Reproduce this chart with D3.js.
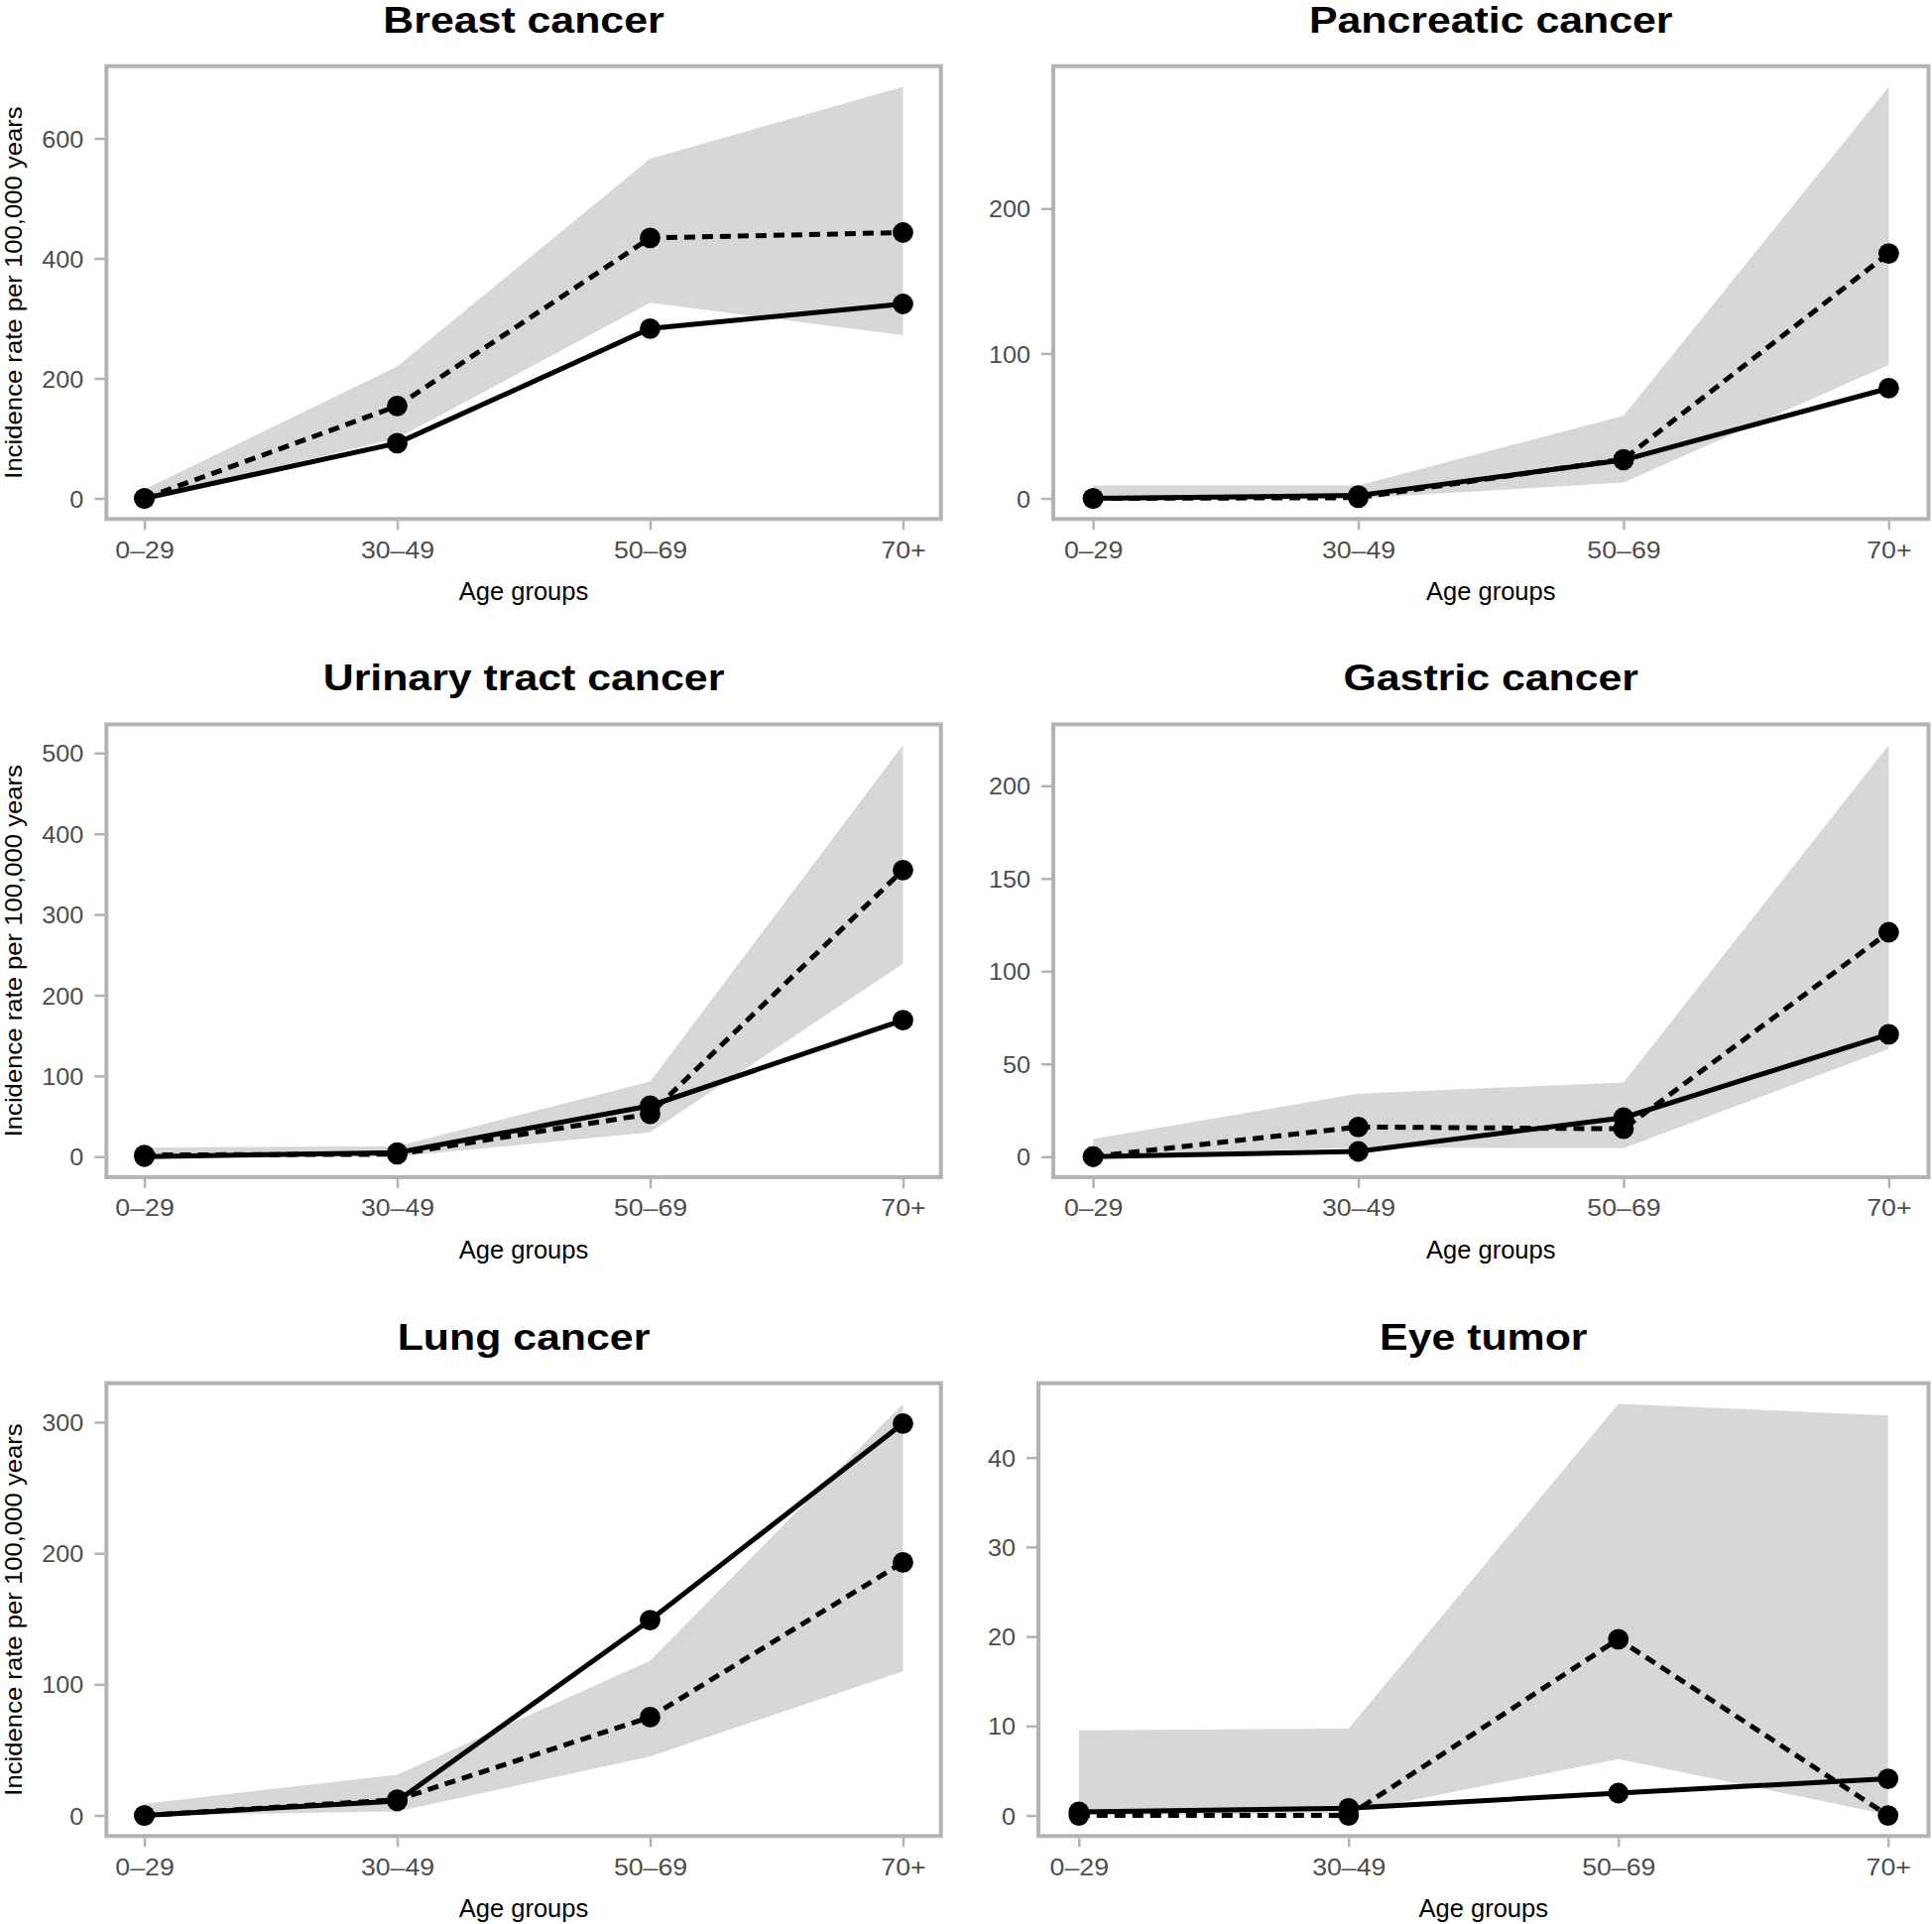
<!DOCTYPE html>
<html><head><meta charset="utf-8">
<script src="https://cdn.jsdelivr.net/npm/d3@7"></script>
<style>
html,body{margin:0;padding:0;background:#fff;}
svg{display:block;}
text{font-family:"Liberation Sans", Arial, Helvetica, sans-serif;}
</style></head><body>
<svg id="chart" width="1948" height="1940"></svg>
<script>
// ---- data ----
const ageGroups = ["0–29", "30–49", "50–69", "70+"];
const panelTitles = ["Breast cancer", "Pancreatic cancer", "Urinary tract cancer", "Gastric cancer", "Lung cancer", "Eye tumor"];
const xAxisTitle = "Age groups";
const yAxisTitle = "Incidence rate per 100,000 years";

const breastSolid  = [0, 92, 283, 324];
const breastDashed = [0, 154, 434, 443];
const breastLower  = [0, 100, 326, 272];
const breastUpper  = [15, 220, 566, 686];
const breastTicks  = [0, 200, 400, 600];

const pancreaticSolid  = [0, 2, 26.5, 76];
const pancreaticDashed = [0, 0.5, 27, 169];
const pancreaticLower  = [0, 0, 11, 92];
const pancreaticUpper  = [9, 9, 57, 284];
const pancreaticTicks  = [0, 100, 200];

const urinarySolid  = [0, 5, 63, 169];
const urinaryDashed = [2, 3, 53, 355];
const urinaryLower  = [0, 0, 30, 239];
const urinaryUpper  = [11, 13, 93, 510];
const urinaryTicks  = [0, 100, 200, 300, 400, 500];

const gastricSolid  = [0, 2.8, 21, 66];
const gastricDashed = [0, 16, 15, 121];
const gastricLower  = [0, 5, 4.5, 58];
const gastricUpper  = [9.5, 34, 40, 222];
const gastricTicks  = [0, 50, 100, 150, 200];

const lungSolid  = [0, 11, 149, 299];
const lungDashed = [0, 12, 75, 193];
const lungLower  = [0, 3, 45, 110];
const lungUpper  = [9, 31, 118, 314];
const lungTicks  = [0, 100, 200, 300];

const eyeSolid  = [0.4, 0.8, 2.5, 4.1];
const eyeDashed = [0, 0, 19.7, 0];
const eyeLower  = [0, 0.3, 6.3, 0.1];
const eyeUpper  = [9.5, 9.7, 46, 44.7];
const eyeTicks  = [0, 10, 20, 30, 40];

const panels = [
  {title: panelTitles[0], solid: breastSolid, dashed: breastDashed, lower: breastLower, upper: breastUpper, ticks: breastTicks},
  {title: panelTitles[1], solid: pancreaticSolid, dashed: pancreaticDashed, lower: pancreaticLower, upper: pancreaticUpper, ticks: pancreaticTicks},
  {title: panelTitles[2], solid: urinarySolid, dashed: urinaryDashed, lower: urinaryLower, upper: urinaryUpper, ticks: urinaryTicks},
  {title: panelTitles[3], solid: gastricSolid, dashed: gastricDashed, lower: gastricLower, upper: gastricUpper, ticks: gastricTicks},
  {title: panelTitles[4], solid: lungSolid, dashed: lungDashed, lower: lungLower, upper: lungUpper, ticks: lungTicks},
  {title: panelTitles[5], solid: eyeSolid, dashed: eyeDashed, lower: eyeLower, upper: eyeUpper, ticks: eyeTicks}
];

// ---- layout (frame line centres) ----
const rowTop = [66.7, 730.4, 1394.7];
const frameH = 456.6;
const colLeft = [[107.3, 107.3, 107.3], [1062, 1062, 1047]];
const colRight = [948.7, 1944.5];

const frameColor = "#b3b3b3";
const ribbonColor = "#d7d7d7";
const tickTextColor = "#4d4d4d";
const tickStretch = 1.09;

const svg = d3.select("#chart");

panels.forEach((p, idx) => {
  const col = idx % 2, row = Math.floor(idx / 2);
  const left = colLeft[col][row], right = colRight[col];
  const top = rowTop[row], bottom = top + frameH;

  const x = d3.scalePoint().domain(ageGroups).range([left, right]).padding(0.15);
  const all = p.solid.concat(p.dashed, p.lower, p.upper);
  const lo = d3.min(all), hi = d3.max(all), ex = (hi - lo) * 0.05;
  const y = d3.scaleLinear().domain([lo - ex, hi + ex]).range([bottom, top]);

  const g = svg.append("g");

  // ribbon
  const area = d3.area()
    .x((d, i) => x(ageGroups[i]))
    .y0((d, i) => y(p.lower[i]))
    .y1((d, i) => y(p.upper[i]));
  g.append("path").datum(p.upper).attr("d", area).attr("fill", ribbonColor);

  const line = d3.line().x((d, i) => x(ageGroups[i])).y(d => y(d));
  g.append("path").datum(p.dashed).attr("d", line)
    .attr("fill", "none").attr("stroke", "#000").attr("stroke-width", 5)
    .attr("stroke-dasharray", "11,7");
  g.append("path").datum(p.solid).attr("d", line)
    .attr("fill", "none").attr("stroke", "#000").attr("stroke-width", 5);

  [p.dashed, p.solid].forEach(series => {
    g.selectAll(null).data(series).enter().append("circle")
      .attr("cx", (d, i) => x(ageGroups[i])).attr("cy", d => y(d))
      .attr("r", 10.4).attr("fill", "#000");
  });

  // frame
  g.append("rect").attr("x", left).attr("y", top)
    .attr("width", right - left).attr("height", bottom - top)
    .attr("fill", "none").attr("stroke", frameColor).attr("stroke-width", 4);

  // y axis
  const ya = g.append("g").attr("transform", `translate(${left - 2},0)`)
    .call(d3.axisLeft(y).tickValues(p.ticks).tickSize(10).tickPadding(11).tickFormat(d3.format("d")));
  ya.select(".domain").remove();
  ya.selectAll(".tick line").attr("stroke", frameColor).attr("stroke-width", 2.5);
  ya.selectAll(".tick text").attr("fill", tickTextColor).attr("font-size", 24)
    .attr("x", -21 / 1.05).attr("transform", "scale(1.05,1)")
    .attr("dy", "0.36em").attr("font-family", null);

  // x axis
  const xa = g.append("g").attr("transform", `translate(0,${bottom + 2})`)
    .call(d3.axisBottom(x).tickSize(9).tickPadding(10));
  xa.select(".domain").remove();
  xa.selectAll(".tick line").attr("stroke", frameColor).attr("stroke-width", 2.5);
  xa.selectAll(".tick text").attr("fill", tickTextColor).attr("font-size", 24.5)
    .attr("transform", `scale(${tickStretch},1)`)
    .attr("y", 37.4).attr("dy", 0).attr("font-family", null);

  // titles
  const cx = (left + right) / 2;
  g.append("text").attr("transform", `translate(${cx},${top - 34}) scale(1.19,1)`)
    .attr("text-anchor", "middle").attr("font-weight", "bold").attr("font-size", 36)
    .attr("fill", "#000").text(p.title);
  g.append("text").attr("x", cx).attr("y", bottom + 82)
    .attr("text-anchor", "middle").attr("font-size", 25.5).attr("fill", "#000").text(xAxisTitle);
  if (col === 0) {
    g.append("text").attr("transform", `translate(22,${(top + bottom) / 2}) rotate(-90) scale(1.07,1)`)
      .attr("text-anchor", "middle").attr("font-size", 24).attr("fill", "#000").text(yAxisTitle);
  }
});
</script>
</body></html>
